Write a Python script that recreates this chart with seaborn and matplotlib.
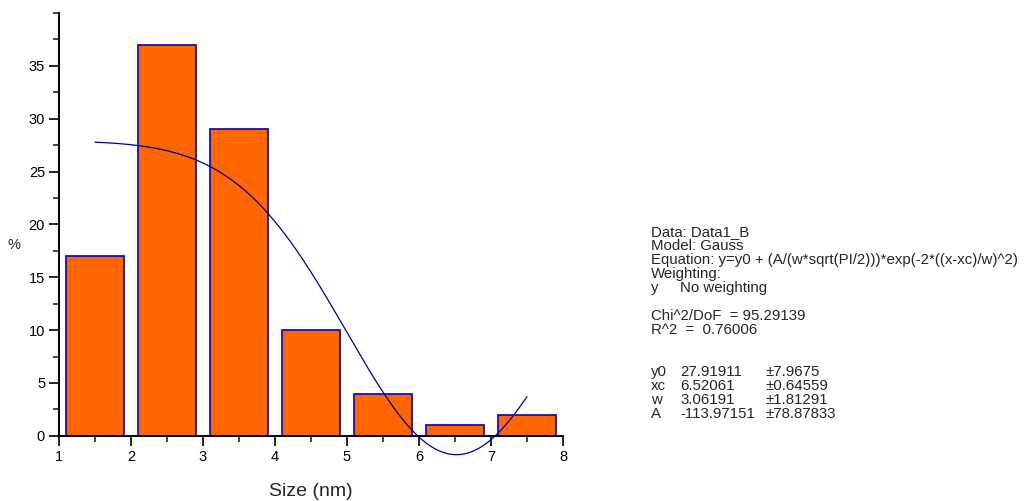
import numpy as np
import pandas as pd
import matplotlib
matplotlib.use("Agg")
import matplotlib.pyplot as plt
from matplotlib.ticker import MultipleLocator
import seaborn as sns

# ---- data ----
sizes = [1.5, 2.5, 3.5, 4.5, 5.5, 6.5, 7.5]
percents = [17, 37, 29, 10, 4, 1, 2]

# Gauss fit parameters (as reported)
y0, xc, w, A = 27.91911, 6.52061, 3.06191, -113.97151
fit_range = [1.5, 7.5]

info_lines = [
    ("Data: Data1_B", None, None),
    ("Model: Gauss", None, None),
    ("Equation: y=y0 + (A/(w*sqrt(PI/2)))*exp(-2*((x-xc)/w)^2)", None, None),
    ("Weighting:", None, None),
    ("y", "No weighting", None),
    ("Chi^2/DoF  = 95.29139", None, None),
    ("R^2  =  0.76006", None, None),
    ("y0", "27.91911", "\u00b17.9675"),
    ("xc", "6.52061", "\u00b10.64559"),
    ("w", "3.06191", "\u00b11.81291"),
    ("A", "-113.97151", "\u00b178.87833"),
]
info_baselines = [236, 250, 264, 278, 292, 320, 334, 376, 390, 404, 418]

sns.set_style("ticks")
plt.rcParams['font.family'] = ['Liberation Sans', 'DejaVu Sans']

W, H = 1026, 501
fig = plt.figure(figsize=(W / 100, H / 100), dpi=100)
ax = fig.add_axes([59 / W, 1 - 457 / H, 504 / W, 444 / H])

df = pd.DataFrame({"size": sizes, "pct": percents})
sns.barplot(data=df, x="size", y="pct", native_scale=True, width=0.8,
            color="#ff6600", edgecolor="#1010c0", linewidth=1.3,
            saturation=1, errorbar=None, ax=ax)

xs = np.linspace(fit_range[0], fit_range[1], 300)
ys = y0 + (A / (w * np.sqrt(np.pi / 2))) * np.exp(-2 * ((xs - xc) / w) ** 2)
sns.lineplot(x=xs, y=ys, color="#0000a0", linewidth=0.9, ax=ax)

ax.set_xlim(1, 8)
ax.set_ylim(-2, 40)
ax.spines['top'].set_visible(False)
ax.spines['right'].set_visible(False)
ax.spines['bottom'].set_position(('data', 0))
ax.spines['left'].set_bounds(0, 40)
ax.spines['bottom'].set_bounds(1, 8)
for s in ('left', 'bottom'):
    ax.spines[s].set_linewidth(1.4)
    ax.spines[s].set_color('black')

ax.xaxis.set_major_locator(MultipleLocator(1))
ax.xaxis.set_minor_locator(MultipleLocator(0.5))
ax.yaxis.set_major_locator(MultipleLocator(5))
ax.yaxis.set_minor_locator(MultipleLocator(2.5))
ax.set_yticks(range(0, 40, 5))
ax.tick_params(which='major', direction='out', length=7, width=1.2,
               labelsize=10.5, colors='black', pad=3)
ax.tick_params(which='minor', direction='out', length=4, width=1.2)
ax.set_xlabel("")
ax.set_ylabel("")
ax.grid(False)

fig.text(311 / W, 1 - 491 / H, "Size (nm)", fontsize=14, ha='center', va='center')
fig.text(14 / W, 1 - 245 / H, "%", fontsize=10.5, ha='center', va='center')

fs = 10.8
for (a, b, c), yb in zip(info_lines, info_baselines):
    yy = 1 - yb / H
    fig.text(651 / W, yy, a, fontsize=fs, ha='left', va='baseline')
    if b is not None:
        fig.text(680 / W, yy, b, fontsize=fs, ha='left', va='baseline')
    if c is not None:
        fig.text(765 / W, yy, c, fontsize=fs, ha='left', va='baseline')

fig.savefig("out.png", dpi=100)
